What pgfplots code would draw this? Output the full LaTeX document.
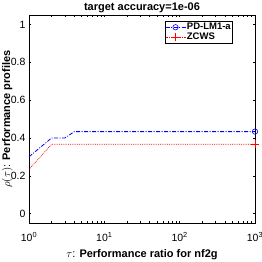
\documentclass[border=0pt]{standalone}
\usepackage{pgfplots}
\pgfplotsset{compat=1.18}
\usepackage{fontspec}
\setmainfont{Liberation Sans}
\begin{document}
\begin{tikzpicture}
\begin{axis}[
  name=ax,
  scale only axis,
  width=226pt, height=208pt,
  xmode=log, xmin=1, xmax=1000,
  ymin=-0.05, ymax=1.05,
  xtick={1,10,100,1000},
  xticklabels={10\textsuperscript{0},10\textsuperscript{1},10\textsuperscript{2},10\textsuperscript{3}},
  ytick={0,0.2,0.4,0.6,0.8,1},
  yticklabels={0,0.2,0.4,0.6,0.8,1},
  tick align=inside,
  major tick length=2.3pt, minor tick length=2pt,
  tick style={black, thin},
  tick label style={font=\fontsize{10.5}{12}\selectfont},
  xticklabel style={yshift=-6pt},
  axis line style={black, thin},
  every axis title shift=0pt,
  title={\bfseries target accuracy=1e-06},
  title style={font=\fontsize{11}{12}\selectfont, at={(axis description cs:0.5,1)}, anchor=base, yshift=4pt},
  xlabel={$\tau$: \bfseries Performance ratio for nf2g},
  ylabel={$\rho(\tau)$: \bfseries Performance profiles},
  label style={font=\fontsize{11}{12}\selectfont},
  xlabel style={at={(axis description cs:0.5,-0.1635)}, anchor=base},
  ylabel style={at={(axis description cs:-0.084,0.5)}, anchor=base},
  legend style={at={(axis description cs:0.898,0.971)}, anchor=north east, draw=black, thin,
    font=\fontsize{9.5}{11}\selectfont\bfseries, inner xsep=0pt, inner ysep=1pt, row sep=0pt,
    nodes={inner sep=1pt}},
  legend image code/.code={\draw[#1, mark repeat=2, mark phase=2] plot coordinates {(0pt,0pt) (10pt,0pt) (20pt,0pt)};},
  legend cell align=left,
]
\addlegendimage{blue, line width=0.8pt, dash pattern=on 4pt off 1.5pt on 1pt off 1.5pt, mark=o, mark size=2.7pt, mark options={solid, line width=0.6pt}}
\addlegendentry{PD-LM1-a}
\addlegendimage{red, line width=0.7pt, dash pattern=on 0.8pt off 1pt, mark=+, mark size=4pt, mark options={solid}}
\addlegendentry{ZCWS}
\addplot[blue, line width=0.8pt, dash pattern=on 4pt off 1.5pt on 1pt off 1.5pt, forget plot]
  coordinates {(1,0.3) (2,0.4) (3,0.4) (4,0.4333) (100,0.4333) (1000,0.4333)};
\addplot[blue, line width=0.6pt, only marks, mark=o, mark size=2.7pt, forget plot]
  coordinates {(1000,0.4333)};
\addplot[red, line width=0.7pt, dash pattern=on 0.8pt off 1pt, forget plot]
  coordinates {(1,0.2333) (2,0.3667) (100,0.3667) (1000,0.3667)};
\addplot[red, line width=0.7pt, only marks, mark=+, mark size=4pt, forget plot]
  coordinates {(1000,0.3667)};
\end{axis}
\pgfresetboundingbox
\useasboundingbox ([xshift=-29pt,yshift=-39pt]ax.south west) rectangle ([xshift=7pt,yshift=15pt]ax.north east);
\end{tikzpicture}
\end{document}
